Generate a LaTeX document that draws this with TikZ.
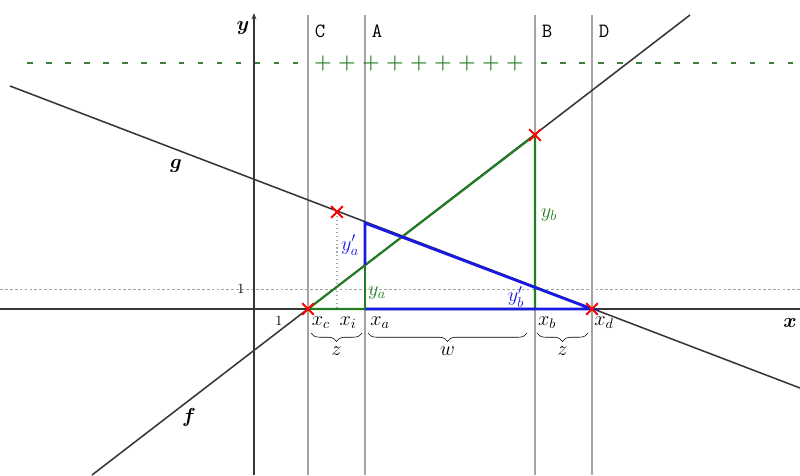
\documentclass[tikz,border=0pt]{standalone}
\usepackage{amsmath,amssymb}
\usepackage{xcolor}
\usepackage{tikz}
\usetikzlibrary{arrows.meta,positioning,calc,decorations.pathreplacing,shapes.misc}

\definecolor{axisgray}{RGB}{55,55,55}
\definecolor{guidegray}{RGB}{165,165,165}
\definecolor{trigreen}{RGB}{35,125,35}
\definecolor{triblue}{RGB}{25,25,225}

\begin{document}
\begin{tikzpicture}[x=0.025cm,y=-0.025cm,
  every node/.style={font=\Large},
  guide/.style={guidegray,line width=1.1pt},
  xmarker/.style={draw=red,cross out,line width=1.3pt,minimum size=7pt,inner sep=0pt},
  bracez/.style={decorate,decoration={brace,mirror,amplitude=6pt},thin}]
  \useasboundingbox (0,0) rectangle (800,475);
  \coordinate (O) at (254,309);
  \coordinate (Xc) at (308,309);
  \coordinate (Xi) at (337,309);
  \coordinate (Xa) at (365,309);
  \coordinate (Xb) at (535,309);
  \coordinate (Xd) at (592,309);
  \coordinate (Gi) at (337,212);
  \coordinate (Ga) at (365,223);
  \coordinate (Fa) at (365,265);
  \coordinate (Fb) at (535,135);
  \coordinate (g1) at (10,86);
  \coordinate (g2) at (800,388);
  \coordinate (f1) at (92,475);
  \coordinate (f2) at (690,15);
  \foreach \xx/\name in {308/C,365/A,535/B,592/D}{
    \draw[guide] (\xx,15)--(\xx,475);
    \node[anchor=west,font=\Large\ttfamily] at (\xx+2,31) {\name};
  }
  \draw[trigreen!70!gray,line width=0.8pt,dash pattern=on 4pt off 9.5pt] (27,63)--(300,63);
  \draw[trigreen!70!gray,line width=0.8pt,dash pattern=on 4pt off 9.5pt] (541,63)--(800,63);
  \foreach \i in {0,...,8}
    \node[trigreen] (plus\i) at (323+24*\i,63) {$\boldsymbol{+}$};
  \draw[guidegray,dash pattern=on 2pt off 1.5pt] (0,289)--(800,289);
  \draw[axisgray,line width=1.4pt] (0,309)--(800,309);
  \draw[axisgray,line width=1.2pt,-{Stealth[length=1.6mm]}] (254,475)--(254,13);
  \draw[axisgray,line width=1.1pt] (g1)--(g2);
  \draw[axisgray,line width=1.1pt] (f1)--(f2);
  \draw[guidegray,dotted,thick] (Gi)--(Xi);
  \draw[trigreen,line width=1.5pt] (Xc)--(Fb)--(Xb)--cycle;
  \draw[triblue,line width=2pt] (Fa)--(Ga)--(Xd)--(Xa);
  \draw[trigreen,line width=1.5pt] (Fa)--(Xa);
  \foreach \p in {Xc,Gi,Fb,Xd}
    \node[xmarker] at (\p) {};
  \node at (243,28) {$\boldsymbol{y}$};
  \node at (790,323) {$\boldsymbol{x}$};
  \node at (176,166) {$\boldsymbol{g}$};
  \node at (189,417) {$\boldsymbol{f}$};
  \node[font=\normalsize] at (241,289) {1};
  \node[font=\normalsize] at (279,321) {1};
  \node[trigreen] at (549,215) {$y_b$};
  \node[trigreen] at (377,293) {$y_a$};
  \node[triblue] at (350,245) {$y'_a$};
  \node[triblue] at (516,297) {$y'_b$};
  \node at (321,323) {$x_c$};
  \node at (348,323) {$x_i$};
  \node at (380,323) {$x_a$};
  \node at (547,323) {$x_b$};
  \node at (604,323) {$x_d$};
  \draw[bracez] (311,333)--(362,333) node[midway,below=6pt] {$z$};
  \draw[bracez] (368,333)--(527,333) node[midway,below=6pt] {$w$};
  \draw[bracez] (537,333)--(588,333) node[midway,below=6pt] {$z$};
\end{tikzpicture}
\end{document}
